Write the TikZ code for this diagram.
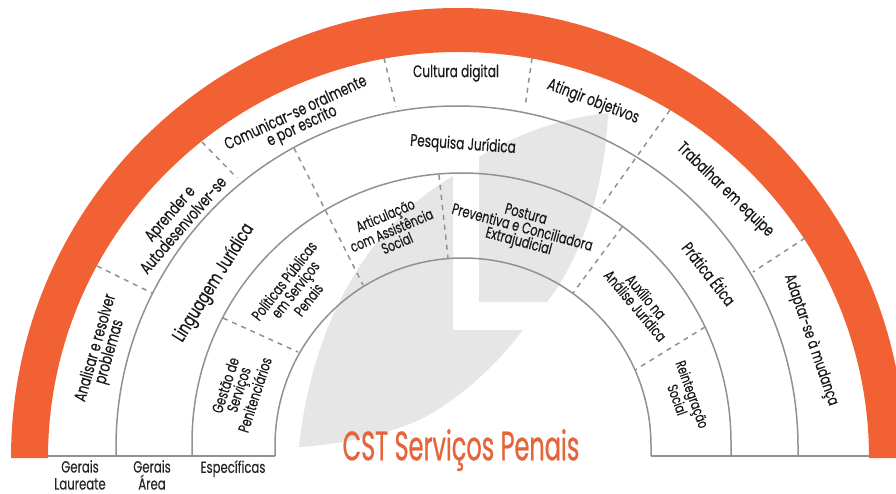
\documentclass[tikz,border=0pt]{standalone}
\usepackage{fontspec}
\setmainfont[FakeStretch=0.72,FakeBold=0.25]{Poppins}
\newfontfamily\titlefont[FakeStretch=0.585,FakeBold=0.6]{Poppins}
\definecolor{arcorange}{HTML}{F26133}
\definecolor{titleorange}{HTML}{E5643A}
\definecolor{leafgray}{HTML}{E6E6E6}
\definecolor{linegray}{HTML}{919191}
\tikzset{
  lbl/.style={font=\fontsize{16.8}{14.5}\selectfont, align=center, inner sep=0pt, text=black!90},
  smalllbl/.style={lbl, font=\fontsize{15.4}{14}\selectfont},
  foot/.style={font=\fontsize{16.2}{17}\selectfont, align=center, inner sep=0pt, text=black!85, anchor=north},
  ringline/.style={draw=linegray, line width=1.5pt},
  divider/.style={draw=linegray, line width=1.5pt, dash pattern=on 5pt off 5pt},
  leaf/.style={fill=leafgray, draw=none}
}
\begin{document}
\begin{tikzpicture}[x=1pt,y=-1pt]
\useasboundingbox (0,0) rectangle (896,494);
\clip (0,0) rectangle (896,494);
% leaf
\path[leaf] (453,176) -- (453,330) -- (523,330) .. controls (485,380) and (440,412) .. (410,424) .. controls (375,437) and (335,445) .. (299,447) .. controls (308,360) and (345,240) .. (453,176) -- cycle;
\path[leaf] (479,157) .. controls (515,135) and (560,118) .. (608,113) .. controls (605,190) and (580,260) .. (547,302) -- (479,302) -- cycle;
% orange band
\fill[arcorange] (11,458) arc[start angle=180,end angle=0,x radius=447pt,y radius=450pt] -- (869,458) arc[start angle=0,end angle=180,x radius=410.5pt,y radius=406pt] -- cycle;
% ring lines
\draw[ringline] (116,456) -- (116,447) arc[start angle=180,end angle=0,radius=341pt] -- (798,456);
\draw[ringline] (192,456) -- (192,442.5) arc[start angle=180,end angle=0,radius=269.5pt] -- (731,456);
\draw[ringline] (275,456) -- (275,446) arc[start angle=180,end angle=0,radius=188pt] -- (651,456);
\draw[ringline] (48,456) -- (275,456);
\draw[ringline] (651,456) -- (869,456);
% divider ends
\coordinate (a1) at (97,266);  \coordinate (a2) at (152,293);
\coordinate (b1) at (202,142); \coordinate (b2) at (237,178);
\coordinate (c1) at (384,58);  \coordinate (c2) at (396,107);
\coordinate (d1) at (532,58);  \coordinate (d2) at (525,107);
\coordinate (e1) at (670,110); \coordinate (e2) at (600,208);
\coordinate (f1) at (805,238); \coordinate (f2) at (753,272);
\coordinate (g1) at (294,148); \coordinate (g2) at (363,285);
\coordinate (h1) at (223,318); \coordinate (h2) at (298,352);
\coordinate (i1) at (439,175); \coordinate (i2) at (448,258);
\coordinate (j1) at (622,227); \coordinate (j2) at (573,293);
\coordinate (k1) at (705,327); \coordinate (k2) at (635,370);
\foreach \p/\q in {a1/a2,b1/b2,c1/c2,d1/d2,e1/e2,f1/f2,g1/g2,h1/h2,i1/i2,j1/j2,k1/k2}
  \draw[divider] (\p) -- (\q);
% outer ring
\node[lbl,rotate=74] (analisar) at (103,350) {Analisar e resolver\\problemas};
\node[lbl,rotate=49] (aprender) at (176,219) {Aprender e\\Autodesenvolver-se};
\node[lbl,rotate=25] (comunicar) at (299,120) {Comunicar-se oralmente\\e por escrito};
\node[lbl] (cultura) at (456,73) {Cultura digital};
\node[lbl,rotate=-21] (atingir) at (593,102) {Atingir objetivos};
\node[lbl,rotate=-44] (trabalhar) at (725,190) {Trabalhar em equipe};
\node[lbl,rotate=-71,font=\fontsize{16}{14}\selectfont] (adaptar) at (811,340) {Adaptar-se à mudança};
% middle ring
\node[lbl,rotate=58,font=\fontsize{19}{14}\selectfont] (linguagem) at (214,283) {Linguagem Jurídica};
\node[lbl,rotate=-4] (pesquisa) at (463,145) {Pesquisa Jurídica};
\node[lbl,rotate=-52] (pratica) at (710,273) {Prática Ética};
% inner ring
\node[smalllbl,rotate=72] (gestao) at (240,390) {Gestão de\\Serviços\\Penitenciários};
\node[smalllbl,rotate=52] (politicas) at (296,290) {Políticas Públicas\\em Serviços\\Penais};
\node[smalllbl,rotate=23,font=\fontsize{15}{14}\selectfont] (articulacao) at (391,229) {Articulação\\com Assistência\\Social};
\node[smalllbl,rotate=-15,font=\fontsize{15.7}{14}\selectfont] (postura) at (522,229) {Postura\\Preventiva e Conciliadora\\Extrajudicial};
\node[smalllbl,rotate=-50] (auxilio) at (641,301) {Auxílio na\\Análise Jurídica};
\node[smalllbl,rotate=-70,font=\fontsize{14.5}{13}\selectfont] (reintegracao) at (685,397) {Reintegração\\Social};
% footer
\node[foot] (laureate) at (80,460) {Gerais\\Laureate};
\node[foot] (area) at (152,460) {Gerais\\Área};
\node[foot] (especificas) at (233,460) {Específicas};
\node[font=\titlefont\fontsize{41}{43}\selectfont, text=titleorange, inner sep=0pt] (titulo) at (461,450) {CST Serviços Penais};
\end{tikzpicture}
\end{document}
